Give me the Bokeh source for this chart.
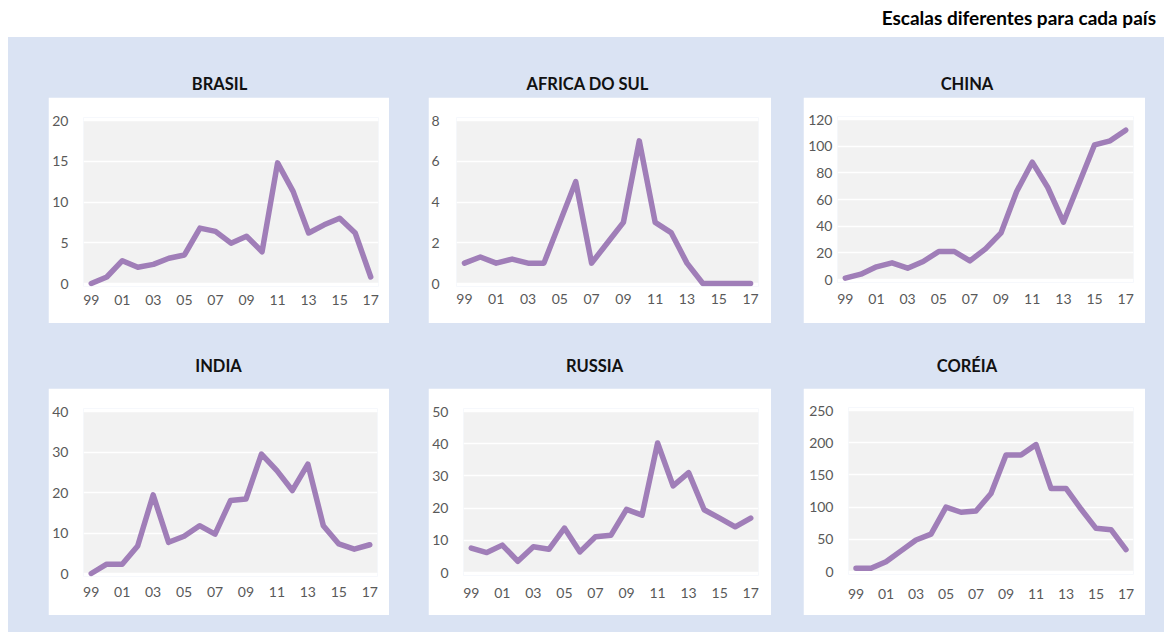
from bokeh.plotting import figure
from bokeh.layouts import row, column
from bokeh.models import Div, Range1d, FixedTicker, BoxAnnotation
from bokeh.embed import file_html
from bokeh.resources import INLINE

# ---------------- data ----------------
years = ["99", "00", "01", "02", "03", "04", "05", "06", "07", "08",
         "09", "10", "11", "12", "13", "14", "15", "16", "17"]

brasil = [0.0, 0.8, 2.8, 2.0, 2.35, 3.1, 3.5, 6.8, 6.4, 4.95,
          5.8, 3.9, 14.8, 11.3, 6.2, 7.2, 8.0, 6.2, 0.8]
africa_do_sul = [1.0, 1.3, 1.0, 1.2, 1.0, 1.0, 3.0, 5.0, 1.0, 2.0,
                 3.0, 7.0, 3.0, 2.5, 1.0, 0.0, 0.0, 0.0, 0.0]
china = [1, 4, 9.5, 12.5, 8.5, 13.5, 21, 21, 14, 23,
         35, 66, 88, 69, 43, 72, 101, 104, 112]
india = [0.0, 2.3, 2.3, 6.8, 19.4, 7.7, 9.2, 11.8, 9.7, 18.0,
         18.4, 29.5, 25.4, 20.5, 27.0, 11.8, 7.3, 6.0, 7.1]
russia = [7.6, 6.2, 8.5, 3.5, 8.0, 7.2, 13.8, 6.4, 11.1, 11.6,
          19.6, 17.8, 40.2, 26.9, 31.0, 19.5, 16.9, 14.2, 16.9]
coreia = [5, 5, 15, 32, 49, 58, 100, 92, 94, 121,
          181, 181, 197, 129, 129, 97, 67, 65, 34]

titles = ["BRASIL", "AFRICA DO SUL", "CHINA", "INDIA", "RUSSIA", "CORÉIA"]
series = [brasil, africa_do_sul, china, india, russia, coreia]
yticks_brasil = [0, 5, 10, 15, 20]
yticks_africa = [0, 2, 4, 6, 8]
yticks_china = [0, 20, 40, 60, 80, 100, 120]
yticks_india = [0, 10, 20, 30, 40]
yticks_russia = [0, 10, 20, 30, 40, 50]
yticks_coreia = [0, 50, 100, 150, 200, 250]
yticks_all = [yticks_brasil, yticks_africa, yticks_china,
              yticks_india, yticks_russia, yticks_coreia]
header_text = "Escalas diferentes para cada país"

# ---------------- style ----------------
FONT = "Lato"
BLUE = "#DAE3F3"
GRAY = "#F2F2F2"
LINE = "#A07EB8"
LABEL = "#595959"
PAD = 3  # px of white padding above/below the gray area

# per panel: card width, card height, left, right, top, bottom (gray area offsets), y standoff, x label centre offset
geom = [
    (341, 226, 35, 11, 23, 40, 15, 19),
    (343, 226, 27, 13, 23, 40, 17, 18),
    (342, 226, 34, 12, 22, 44, 5, 22),
    (341, 227, 35, 12, 23, 42, 15, 21),
    (343, 227, 35, 13, 23, 43, 15, 23),
    (342, 227, 45, 12, 22, 44, 15, 25),
]


def make_panel(vals, ticks, g):
    w, h, L, R, T, B, ystand, xcen = g
    ymax = ticks[-1]
    gray_h = h - T - B
    pad = ymax * PAD / gray_h
    p = figure(width=w, height=h, output_backend="svg", toolbar_location=None,
               x_range=Range1d(-0.5, len(years) - 0.5),
               y_range=Range1d(-pad, ymax + pad),
               min_border_left=L, min_border_right=R,
               min_border_top=T - PAD, min_border_bottom=B - PAD,
               background_fill_color="white", border_fill_color="white",
               outline_line_color=None, margin=0)
    p.add_layout(BoxAnnotation(bottom=0, top=ymax, fill_color=GRAY, fill_alpha=1,
                               line_color=None, level="image"))
    xs = list(range(len(years)))
    p.line(xs, vals, line_color=LINE, line_width=5.5, line_join="round", line_cap="round")

    p.xgrid.visible = False
    p.ygrid.grid_line_color = "white"
    p.ygrid.grid_line_width = 1.5
    p.ygrid.ticker = FixedTicker(ticks=ticks)

    p.xaxis.ticker = FixedTicker(ticks=xs[::2])
    p.xaxis.major_label_overrides = {i: years[i] for i in xs}
    p.yaxis.ticker = FixedTicker(ticks=ticks)
    for ax, st in ((p.xaxis, xcen - 8 - PAD), (p.yaxis, ystand)):
        ax.axis_line_color = None
        ax.major_tick_line_color = None
        ax.minor_tick_line_color = None
        ax.major_tick_out = 0
        ax.major_tick_in = 0
        ax.major_label_standoff = st
        ax.major_label_text_font = FONT
        ax.major_label_text_font_size = "14px"
        ax.major_label_text_color = LABEL
    return p


def title_div(text, w, h, shift=0):
    return Div(text=f'<div style="width:{w}px;height:{h}px;line-height:{h}px;'
                    f'text-align:center;font-family:{FONT};font-weight:bold;'
                    f'font-size:16.5px;color:#111;position:relative;left:{shift}px;">{text}</div>',
               width=w, height=h, margin=0)


figs = [make_panel(v, t, g) for v, t, g in zip(series, yticks_all, geom)]

left_margins = [40, 39, 32]
shifts = [1, -12, -7, 0, -5, -7]

row1_children = []
for i in range(3):
    g = geom[i]
    d = title_div(titles[i], g[0], 25, shifts[i])
    d.margin = (35, 0, 0, 0)
    col = column(d, figs[i], margin=(0, 0, 0, left_margins[i]), spacing=0)
    row1_children.append(col)

row2_children = []
for i in range(3, 6):
    g = geom[i]
    d = title_div(titles[i], g[0], 24, shifts[i])
    d.margin = (31, 0, 0, 0)
    figs[i].margin = (10, 0, 0, 0)
    col = column(d, figs[i], margin=(0, 0, 0, left_margins[i - 3]), spacing=0)
    row2_children.append(col)

row1 = row(*row1_children, spacing=0, margin=0)
row2 = row(*row2_children, spacing=0, margin=0)

blue = column(row1, row2, spacing=0, width=1156, height=595, margin=(0, 0, 0, 8),
              styles={"background-color": BLUE})

header = Div(text=f'<div style="width:1156px;height:37px;line-height:36px;text-align:right;'
                  f'font-family:{FONT};font-weight:bold;font-size:19px;color:#000;">{header_text}</div>',
             width=1164, height=37, margin=0)

page = column(header, blue, spacing=0, margin=0, width=1164, height=632)

open("out.html", "w").write(file_html(page, INLINE))
